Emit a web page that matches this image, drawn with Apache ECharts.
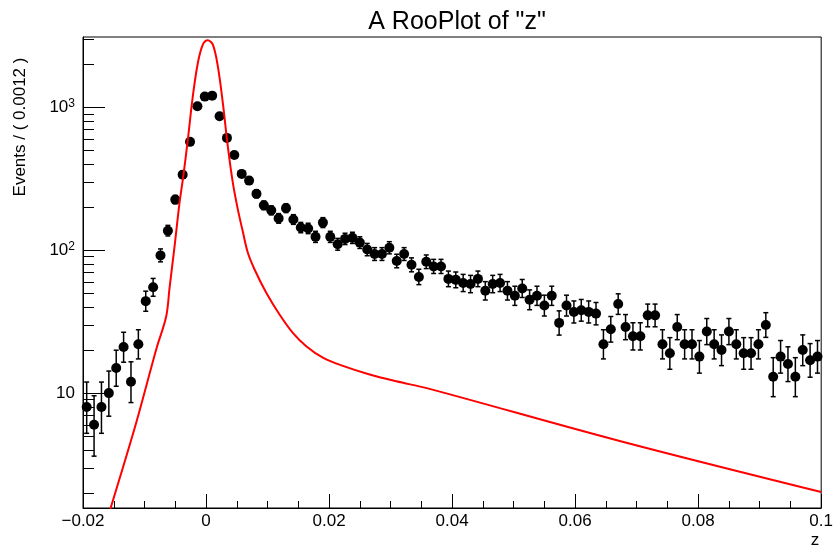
<!DOCTYPE html>
<html>
<head>
<meta charset="utf-8">
<script src="https://cdn.jsdelivr.net/npm/echarts@6/dist/echarts.min.js"></script>
<style>
html,body{margin:0;padding:0;background:#fff;}
#chart{width:836px;height:550px;}
</style>
</head>
<body>
<div id="chart"></div>
<script>
// ---- data ----
var binStart = -0.02;
var binWidth = 0.0012;
var counts = [8, 6, 8, 10, 15, 21, 12, 22, 44, 55,
  92, 137, 226, 338, 573, 1016, 1188, 1207, 865, 611,
  464, 342, 307, 248, 206, 190, 167, 197, 164, 144,
  142, 124, 156, 124, 110, 120, 122, 113, 101, 94,
  94, 104, 84, 94, 79, 65, 83, 77, 77, 63,
  62, 59, 58, 63, 52, 58, 59, 52, 48, 54,
  45, 48, 41, 48, 31, 41, 37, 38, 37, 36,
  22, 28, 42, 29, 25, 25, 35, 35, 22, 19,
  29, 22, 22, 18, 27, 22, 20, 27, 22, 19,
  19, 22, 30, 13, 18, 16, 13, 20, 17, 18];
var curveZ = [-0.01607, -0.01541, -0.01135, -0.00810, -0.00647, -0.00593, -0.00512, -0.00431, -0.00366, -0.00296,
  -0.00215, -0.00133, -0.00052, 0.00029, 0.00111, 0.00192, 0.00273, 0.00354, 0.00436, 0.00517,
  0.00598, 0.00680, 0.00789, 0.00979, 0.01195, 0.01411, 0.01629, 0.01899, 0.02224, 0.02659,
  0.03093, 0.03634, 0.06724, 0.1];
var curveV = [1.31, 1.62, 6.21, 20.2, 34.5, 54.6, 106, 214, 338, 594,
  1194, 2043, 2743, 2942, 2743, 1936, 1073, 533, 296, 193,
  135, 95.9, 73.3, 50.4, 35.5, 26.4, 21.3, 17.7, 15.5, 13.5,
  12.1, 10.7, 4.62, 2.03];
var xTickLabels = {'-0.02': '\u22120.02', '0': '0', '0.02': '0.02', '0.04': '0.04', '0.06': '0.06', '0.08': '0.08', '0.1': '0.1'};
var yMajorTicks = [10, 100, 1000];
var yMinorTicks = [2, 3, 4, 5, 6, 7, 8, 9, 20, 30, 40, 50, 60, 70, 80, 90, 200, 300, 400, 500, 600, 700, 800, 900, 2000, 3000];
var yMin = 1.57, yMax = 3105;

// ---- Poisson 68% intervals for error bars ----
function cdf(n, mu) {
  var t = Math.exp(-mu), s = t;
  for (var k = 1; k <= n; k++) { t *= mu / k; s += t; }
  return s;
}
function poissonInterval(n) {
  if (n > 60) { var e = Math.sqrt(n + 0.25); return [n - e + 0.5, n + e + 0.5]; }
  var a = 0.158655;
  var lo = 0, hi = n, m, i;
  if (n > 0) {
    for (i = 0; i < 80; i++) { m = (lo + hi) / 2; if (1 - cdf(n - 1, m) < a) lo = m; else hi = m; }
  }
  var L = n > 0 ? (lo + hi) / 2 : 0;
  lo = n; hi = n + 10 * Math.sqrt(n + 1) + 10;
  for (i = 0; i < 80; i++) { m = (lo + hi) / 2; if (cdf(n, m) > a) lo = m; else hi = m; }
  return [L, (lo + hi) / 2];
}

var points = [], bars = [];
for (var i = 0; i < counts.length; i++) {
  var zc = +(binStart + binWidth * (i + 0.5)).toFixed(5);
  var iv = poissonInterval(counts[i]);
  points.push([zc, counts[i]]);
  bars.push([zc, counts[i], iv[0], iv[1]]);
}
var curve = curveZ.map(function (z, k) { return [z, curveV[k]]; });

var FONT = 'Liberation Sans';
var chart = echarts.init(document.getElementById('chart'), null, {renderer: 'canvas'});
chart.setOption({
  animation: false,
  backgroundColor: '#fff',
  title: {
    text: 'A RooPlot of "z"',
    left: 452, top: 5, textAlign: 'center',
    textStyle: {fontFamily: FONT, fontSize: 25, fontWeight: 'normal', color: '#000'}
  },
  grid: {left: 83, right: 14, top: 37, bottom: 42, show: true, borderColor: '#000', borderWidth: 1, backgroundColor: 'transparent'},
  xAxis: {
    type: 'value', min: -0.02, max: 0.1, interval: 0.02,
    axisLine: {show: true, onZero: false, lineStyle: {color: '#000', width: 1}},
    axisTick: {show: true, inside: true, length: 14, lineStyle: {color: '#000', width: 1}},
    minorTick: {show: true, splitNumber: 4, length: 7, lineStyle: {color: '#000', width: 1}},
    splitLine: {show: false},
    axisLabel: {
      color: '#000', fontFamily: FONT, fontSize: 17, margin: 5, showMaxLabel: true, showMinLabel: true,
      formatter: function (v) { var k = String(+v.toFixed(4)); return xTickLabels[k] !== undefined ? xTickLabels[k] : k; }
    }
  },
  yAxis: [{
    type: 'log', logBase: 10, min: yMin, max: yMax, position: 'left',
    axisLine: {show: true, onZero: false, lineStyle: {color: '#000', width: 1}},
    axisTick: {show: true, inside: true, length: 22, customValues: yMajorTicks, lineStyle: {color: '#000', width: 1}},
    splitLine: {show: false},
    axisLabel: {
      customValues: yMajorTicks, margin: 8, color: '#000', fontFamily: FONT, fontSize: 17,
      formatter: function (v) {
        var e = Math.round(Math.log10(v));
        if (e === 1) return '{b|10}';
        return '{b|10}{s|' + e + '}';
      },
      rich: {
        b: {fontFamily: FONT, fontSize: 17, color: '#000', lineHeight: 20},
        s: {fontFamily: FONT, fontSize: 12, color: '#000', verticalAlign: 'top', lineHeight: 20, padding: [0, 0, 6, 0]}
      }
    }
  }, {
    type: 'log', logBase: 10, min: yMin, max: yMax, position: 'left', offset: 0,
    axisLine: {show: false, onZero: false},
    axisTick: {show: true, inside: true, length: 11, customValues: yMinorTicks, lineStyle: {color: '#000', width: 1}},
    axisLabel: {show: false},
    splitLine: {show: false}
  }],
  series: [{
    type: 'custom',
    name: 'errors',
    data: bars,
    clip: true,
    z: 2,
    encode: {x: 0, y: 1},
    renderItem: function (params, api) {
      var x = api.value(0);
      var pLo = api.coord([x, api.value(2)]);
      var pHi = api.coord([x, api.value(3)]);
      var st = {stroke: '#000', lineWidth: 1.5};
      var c = 2.5;
      return {
        type: 'group',
        children: [
          {type: 'line', shape: {x1: pLo[0], y1: pLo[1], x2: pHi[0], y2: pHi[1]}, style: st},
          {type: 'line', shape: {x1: pLo[0] - c, y1: pLo[1], x2: pLo[0] + c, y2: pLo[1]}, style: st},
          {type: 'line', shape: {x1: pHi[0] - c, y1: pHi[1], x2: pHi[0] + c, y2: pHi[1]}, style: st}
        ]
      };
    }
  }, {
    type: 'scatter',
    name: 'data',
    data: points,
    symbol: 'circle',
    symbolSize: 10,
    itemStyle: {color: '#000', opacity: 1},
    z: 3
  }, {
    type: 'line',
    name: 'model',
    data: curve,
    showSymbol: false,
    symbol: 'none',
    smooth: 0.35,
    clip: true,
    lineStyle: {color: '#ff0000', width: 2},
    z: 4
  }],
  graphic: [{
    type: 'text', x: 20, y: 127, rotation: Math.PI / 2,
    style: {text: 'Events / ( 0.0012 )', fontFamily: FONT, fontSize: 17, fill: '#000', textAlign: 'center', textVerticalAlign: 'middle'}
  }, {
    type: 'text', x: 815, y: 540,
    style: {text: 'z', fontFamily: FONT, fontSize: 17, fill: '#000', textAlign: 'center', textVerticalAlign: 'middle'}
  }]
});
</script>
</body>
</html>
